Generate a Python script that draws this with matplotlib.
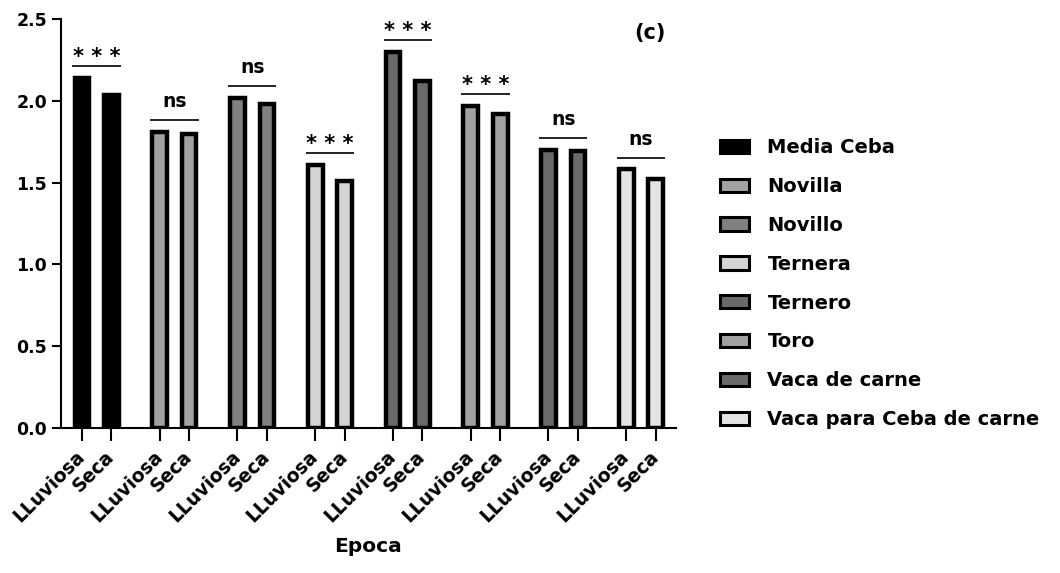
"""
Bar chart: means by category and season (Epoca), with significance marks
"""

import matplotlib
matplotlib.use('Agg')
import matplotlib.pyplot as plt
from matplotlib.patches import Patch
import numpy as np


# Data
categorias = ['Media Ceba', 'Novilla', 'Novillo', 'Ternera', 'Ternero',
              'Toro', 'Vaca de carne', 'Vaca para Ceba de carne']
epocas = ['LLuviosa', 'Seca']
lluviosa = [2.14, 1.81, 2.015, 1.61, 2.30, 1.97, 1.70, 1.58]
seca = [2.035, 1.795, 1.98, 1.51, 2.12, 1.92, 1.69, 1.52]
signif = ['***', 'ns', 'ns', '***', '***', '***', 'ns', 'ns']

# Fill colour for each category
colores = ['#000000', '#a2a2a5', '#808080', '#d4d4d4',
           '#6a6a6a', '#a2a2a5', '#6a6a6a', '#e4e4e4']


def main():

    plt.rcParams['font.family'] = ['DejaVu Sans']
    plt.rcParams['font.weight'] = 'bold'

    fig = plt.figure(figsize=(10.6, 5.73), dpi=100)
    ax = fig.add_axes([0.0575, 0.253, 0.580, 0.714])

    gap = 2.64      # distance between groups (bar spacing = 1)
    width = 0.5
    lw = 3.2

    pos = []
    labels = []
    for g, (cat, h1, h2, col, sig) in enumerate(zip(categorias, lluviosa, seca, colores, signif)):

        x0 = g * gap
        xs = [x0, x0 + 1]
        ax.bar(xs, [h1, h2], width=width, color=col, edgecolor='black',
               linewidth=lw, zorder=2)
        pos += xs
        labels += epocas

        # Significance line above the pair
        ly = max(h1, h2) + 0.072
        half = width / 2 + 0.07
        ax.plot([x0 - half, x0 + 1 + half], [ly, ly], color='black', lw=1.2,
                solid_capstyle='butt')

        if sig == 'ns':
            ax.annotate('ns', xy=(x0 + 0.5, ly), xytext=(0, 9.4),
                        textcoords='offset points', ha='center', va='baseline',
                        fontsize=13.5, fontweight='bold')
        else:
            ax.annotate('* * *', xy=(x0 + 0.5, ly), xytext=(0, 2.2),
                        textcoords='offset points', ha='center', va='baseline',
                        fontsize=15, fontweight='bold')

    ax.set_xlim(-0.71, 7 * gap + 1 + 0.68)
    ax.set_ylim(0, 2.5)
    ax.set_yticks(np.arange(0, 2.51, 0.5))
    ax.set_yticklabels([f'{v:.1f}' for v in np.arange(0, 2.51, 0.5)])

    ax.set_xticks(pos)
    ax.set_xticklabels(labels, rotation=45, ha='right', va='center',
                       rotation_mode='anchor', fontsize=13.5, fontweight='bold')

    ax.tick_params(axis='y', length=6.5, width=1.5, labelsize=12.5, pad=3.5)
    ax.tick_params(axis='x', length=9.4, width=1.5, pad=9)

    for s in ['top', 'right']:
        ax.spines[s].set_visible(False)
    for s in ['left', 'bottom']:
        ax.spines[s].set_linewidth(1.5)

    ax.set_xlabel('Epoca', fontsize=14.5, fontweight='bold', labelpad=8)

    ax.text(0.958, 0.965, '(c)', transform=ax.transAxes, ha='center', va='center',
            fontsize=15, fontweight='bold')

    handles = [Patch(facecolor=c, edgecolor='black', linewidth=2.2) for c in colores]
    fig.legend(handles, categorias, loc='center left', bbox_to_anchor=(0.679, 0.505),
               frameon=False, fontsize=14, handlelength=1.5, handleheight=0.68,
               handletextpad=0.95, labelspacing=1.02, borderpad=0, borderaxespad=0)

    fig.savefig('out.png', dpi=100)
    plt.close()


if __name__ == '__main__':
    main()
